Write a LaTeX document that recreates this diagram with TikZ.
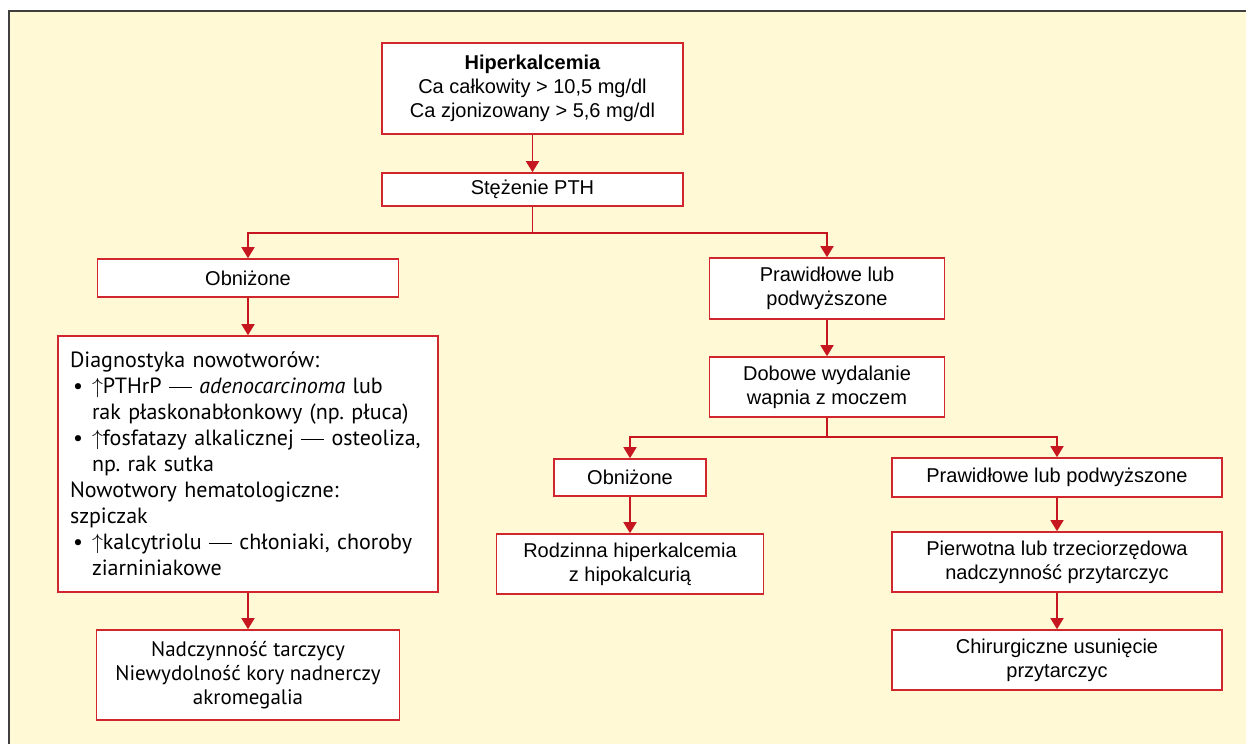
\documentclass[tikz,border=0pt]{standalone}
\usepackage{fontspec}
\setmainfont{Liberation Sans}
\newfontfamily\diagfont{PT Sans}
\usetikzlibrary{arrows.meta}
\definecolor{boxred}{RGB}{210,38,46}
\definecolor{arrred}{RGB}{198,22,32}
\definecolor{cream}{RGB}{255,249,214}
\definecolor{framegray}{RGB}{64,64,64}
\newcommand{\bitem}[1]{\par\hangindent=11pt\hangafter=1\noindent\makebox[11pt][l]{\hspace{1.5pt}\textbullet}#1\par}
\newcommand{\ldash}{\raisebox{0.26em}{\rule{1.05em}{0.06em}}}
\begin{document}
\begin{tikzpicture}[x=0.5pt,y=0.5pt,yscale=-1,
  box/.style={draw=boxred,fill=white,line width=0.8pt,inner sep=0pt,align=center,font=\fontsize{10}{12}\selectfont},
  diagbox/.style={box,font=\diagfont\frenchspacing\fontsize{11}{13}\selectfont},
  conn/.style={draw=arrred,line width=0.75pt,-{Triangle[length=5.5pt,width=6.5pt]}}]
\useasboundingbox (0,0) rectangle (1246,744);
\fill[cream] (9,11) rectangle (1246,744);
\draw[framegray,line width=1pt] (9,744) -- (9,11) -- (1246,11);
\node[box,minimum width=150.5pt,minimum height=45.5pt] (hyper) at (532.5,88.5) {\textbf{Hiperkalcemia}\\Ca całkowity > 10,5 mg/dl\\Ca zjonizowany > 5,6 mg/dl};
\node[box,minimum width=150.5pt,minimum height=16.5pt] (pth) at (532.5,189.5) {Stężenie PTH};
\node[box,minimum width=150.5pt,minimum height=19pt] (low1) at (248,278) {Obniżone};
\node[box,minimum width=117.5pt,minimum height=30.5pt] (norm1) at (827,288.5) {Prawidłowe lub\\podwyższone};
\node[diagbox,minimum width=190pt,minimum height=128pt,text width=178pt,align=left] (diag) at (248,464) {\noindent Diagnostyka nowotworów:
\bitem{$\uparrow$PTHrP \ldash{} \textit{adenocarcinoma} lub\newline rak płaskonabłonkowy (np. płuca)}
\bitem{$\uparrow$fosfatazy alkalicznej \ldash{} osteoliza,\newline np. rak sutka}
\noindent Nowotwory hematologiczne:
\par\noindent szpiczak
\bitem{$\uparrow$kalcytriolu \ldash{} chłoniaki, choroby\newline ziarniniakowe}};
\node[diagbox,minimum width=151.5pt,minimum height=45pt,font=\diagfont\fontsize{10.5}{12}\selectfont] (other) at (248,675) {Nadczynność tarczycy\\Niewydolność kory nadnerczy\\akromegalia};
\node[box,minimum width=117.5pt,minimum height=30pt] (urine) at (827,387) {Dobowe wydalanie\\wapnia z moczem};
\node[box,minimum width=76pt,minimum height=18.5pt] (low2) at (630,477.5) {Obniżone};
\node[box,minimum width=133.5pt,minimum height=30pt] (fhh) at (630,564) {Rodzinna hiperkalcemia\\z hipokalcurią};
\node[box,minimum width=165pt,minimum height=19.5pt] (norm2) at (1057,477.5) {Prawidłowe lub podwyższone};
\node[box,minimum width=165pt,minimum height=30pt] (phpt) at (1057,562) {Pierwotna lub trzeciorzędowa\\nadczynność przytarczyc};
\node[box,minimum width=165pt,minimum height=30pt] (surg) at (1057,660) {Chirurgiczne usunięcie\\przytarczyc};
\draw[conn] (hyper) -- (pth);
\draw[conn] (pth.south) -- ++(0,26) -| (low1.north);
\draw[conn] (pth.south) -- ++(0,26) -| (norm1.north);
\draw[conn] (low1) -- (diag);
\draw[conn] (diag) -- (other);
\draw[conn] (norm1) -- (urine);
\draw[conn] (urine.south) -- ++(0,19) -| (low2.north);
\draw[conn] (urine.south) -- ++(0,19) -| (norm2.north);
\draw[conn] (low2) -- (fhh);
\draw[conn] (norm2) -- (phpt);
\draw[conn] (phpt) -- (surg);
\end{tikzpicture}
\end{document}
